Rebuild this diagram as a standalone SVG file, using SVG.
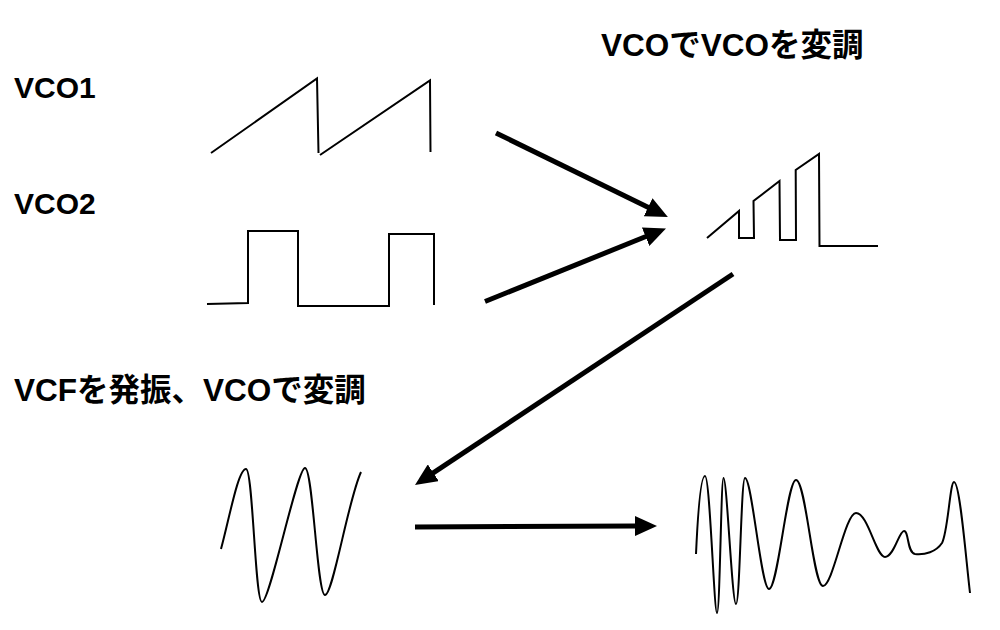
<svg xmlns="http://www.w3.org/2000/svg" width="1000" height="630" viewBox="0 0 1000 630">
<style>
.lbl{font-family:"Liberation Sans","Noto Sans CJK JP",sans-serif;font-weight:bold;font-size:30px;fill:#000}
.big{font-size:31.5px}
.wave{fill:none;stroke:#000;stroke-width:2;stroke-linejoin:miter;stroke-linecap:butt}
.arr{fill:none;stroke:#000;stroke-width:5}
</style>
<defs>
<marker id="ah" viewBox="0 0 22 20" refX="1" refY="10" markerWidth="22" markerHeight="20" markerUnits="userSpaceOnUse" orient="auto">
<path d="M0,0 L22,10 L0,20 z" fill="#000"/>
</marker>
</defs>
<rect width="1000" height="630" fill="#fff"/>
<g id="title"><text class="lbl big" x="601" y="56">VCOでVCOを変調</text></g>
<g id="vco1">
<text class="lbl" x="14" y="98">VCO1</text>
<path class="wave" d="M211,153 L317,78.5 L318.5,153 M320,155 L430,80.5 L430.5,152"/>
</g>
<g id="vco2">
<text class="lbl" x="14" y="214">VCO2</text>
<path class="wave" d="M207,304 L248,303 L248,231 L298,231 L298,306 L389,306 L389,234 L434,234 L434,305"/>
</g>
<g id="modulated">
<path class="wave" d="M707,238 L739,211 L739,238 L754,238 L753.5,201 L779.5,181 L780,240 L796,240 L795.7,170 L819,154 L819.5,246 L878,246"/>
</g>
<g id="vcf">
<text class="lbl big" x="14" y="401">VCFを発振、VCOで変調</text>
<path class="wave" d="M221,549 C229,520 238,469 246,469 C253,469 255,602 262,602 C270,602 297,468 305,468 C313,468 317,595 325,595 C333,595 348,500 361,472"/>
</g>
<g id="output">
<path class="wave" d="M696,554 C698,510 701,476 705,476 C710,476 714,613 717,613 C720,613 721,478 723.5,478 C727,478 732,604 736,604 C740,604 741,478 745,478 C752,478 761,589 769,589 C778,589 787,480 796,480 C806,480 813,586 823,586 C833,586 845,513 856,513 C868,513 876,557 885,557 C894,557 899,531 904,531 C909,531 907,553 915,554 C925,555 936,552 942,543 C948,532 950,482 954,482 C960,482 966,560 970,593"/>
</g>
<g id="connectors">
<line class="arr" x1="496" y1="133" x2="649" y2="207.7" marker-end="url(#ah)"/>
<line class="arr" x1="485" y1="301.5" x2="646.5" y2="236.3" marker-end="url(#ah)"/>
<line class="arr" x1="733" y1="274" x2="432.5" y2="473.3" marker-end="url(#ah)"/>
<line class="arr" x1="415" y1="527" x2="636" y2="526" marker-end="url(#ah)"/>
</g>
</svg>
